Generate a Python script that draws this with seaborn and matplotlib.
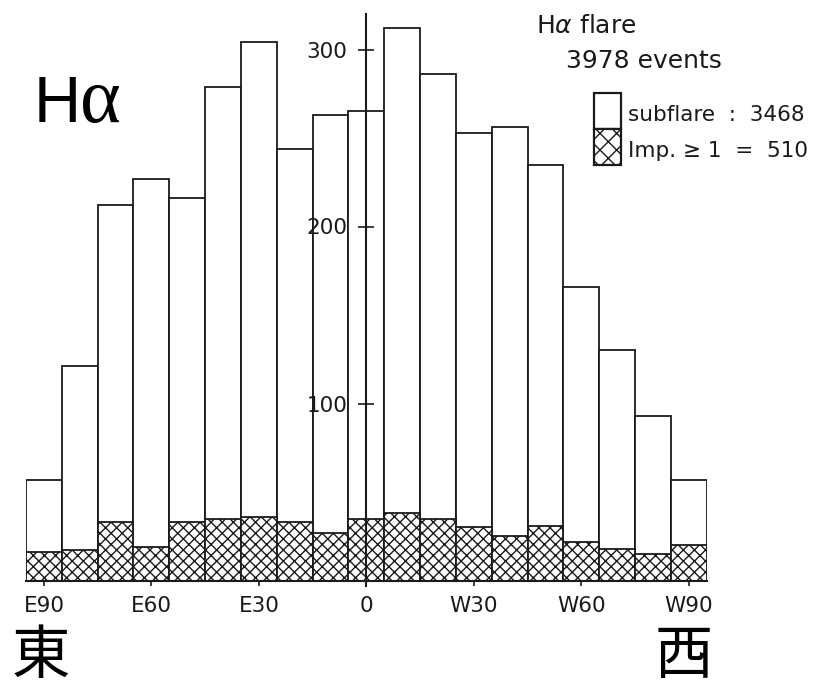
import matplotlib
matplotlib.use("Agg")
import matplotlib.pyplot as plt
from matplotlib.patches import Rectangle
import pandas as pd
import seaborn as sns

# Flare counts per 10-degree longitude bin (east negative, west positive)
longitude = [-90, -80, -70, -60, -50, -40, -30, -20, -10, 0,
             10, 20, 30, 40, 50, 60, 70, 80, 90]
all_flares = [57, 121, 212, 227, 216, 279, 304, 244, 263, 265,
              312, 286, 253, 256, 235, 166, 130, 93, 57]
imp_flares = [16, 17, 33, 19, 33, 35, 36, 33, 27, 35,
              38, 35, 30, 25, 31, 22, 18, 15, 20]

tick_positions = [-90, -60, -30, 0, 30, 60, 90]
tick_labels = ["E90", "E60", "E30", "0", "W30", "W60", "W90"]
y_ticks = [100, 200, 300]

n_total = 3978
n_subflare = 3468
n_imp = 510

INK = "#1a1a1a"

sns.set_theme(style="white")
plt.rcParams["font.family"] = ["DejaVu Sans", "Noto Sans CJK JP"]
plt.rcParams["hatch.linewidth"] = 1.0
plt.rcParams["hatch.color"] = INK

W, H = 814, 688
fig = plt.figure(figsize=(W / 100, H / 100), dpi=100)
fig.patch.set_facecolor("white")


def fx(px):
    return px / W


def fy(py):
    return 1 - py / H


ax = fig.add_axes([fx(26), fy(580.5), (706.7 - 26) / W, 566.4 / H])
ax.set_facecolor("white")

df = pd.DataFrame({"lon": longitude, "all": all_flares, "imp": imp_flares})

# Full height of each bin (subflares + important flares)
sns.barplot(data=df, x="lon", y="all", native_scale=True, width=1.0,
            color="white", saturation=1, edgecolor=INK, linewidth=1.3,
            errorbar=None, ax=ax)
# Importance >= 1 flares, cross-hatched at the base
sns.barplot(data=df, x="lon", y="imp", native_scale=True, width=1.0,
            color="white", saturation=1, edgecolor=INK, linewidth=1.3,
            errorbar=None, hatch="xxx", ax=ax)

ax.set_axisbelow(False)
ax.set_xlim(-95, 95)
ax.set_ylim(0, 320)
ax.set_xlabel("")
ax.set_ylabel("")

for side in ("top", "right"):
    ax.spines[side].set_visible(False)
ax.spines["left"].set_position(("data", 0))
ax.spines["left"].set_bounds(-3, 320)
ax.spines["left"].set_color(INK)
ax.spines["left"].set_linewidth(1.5)
ax.spines["left"].set_clip_on(False)
ax.spines["bottom"].set_color(INK)
ax.spines["bottom"].set_linewidth(1.5)

ax.set_xticks(tick_positions, tick_labels)
ax.set_yticks(y_ticks, [str(v) for v in y_ticks])
ax.tick_params(axis="y", left=True, direction="inout", length=11, width=1.2,
               pad=8, labelsize=15.5, colors=INK)
ax.tick_params(axis="x", bottom=True, direction="out", length=3.5, width=1.2,
               pad=8, labelsize=15.5, colors=INK)
for lbl in ax.get_yticklabels():
    lbl.set_zorder(3)

# Title block and counts
fig.text(fx(536), fy(33), r"H$\alpha$ flare", fontsize=18, color=INK,
         ha="left", va="baseline")
fig.text(fx(566), fy(68), f"{n_total} events", fontsize=18, color=INK,
         ha="left", va="baseline")

# Legend swatches
bx0, bx1 = 594, 620.7
by0, bym, by1 = 93.3, 129.3, 165
fig.add_artist(Rectangle((fx(bx0), fy(bym)), (bx1 - bx0) / W, (bym - by0) / H,
                         transform=fig.transFigure, facecolor="white",
                         edgecolor=INK, linewidth=1.6))
fig.add_artist(Rectangle((fx(bx0), fy(by1)), (bx1 - bx0) / W, (by1 - bym) / H,
                         transform=fig.transFigure, facecolor="white",
                         edgecolor=INK, linewidth=1.6, hatch="xx"))
fig.text(fx(628), fy(120.7), f"subflare  :  {n_subflare}", fontsize=15.5,
         color=INK, ha="left", va="baseline")
fig.text(fx(628), fy(156.7), f"Imp. \u2265 1  =  {n_imp}", fontsize=15.5,
         color=INK, ha="left", va="baseline")

# Large panel label
fig.text(fx(34), fy(122), "H", fontsize=47, family="Liberation Sans",
         color="black", ha="left", va="baseline")
fig.text(fx(80), fy(122), "\u03b1", fontsize=56, family="Liberation Serif",
         color="black", ha="left", va="baseline")

# East / west markers
fig.text(fx(41), fy(687.5), "東", fontsize=42, family=["Noto Sans CJK JP"],
         color="black", ha="center", va="bottom")
fig.text(fx(684), fy(687.5), "西", fontsize=42, family=["Noto Sans CJK JP"],
         color="black", ha="center", va="bottom")

fig.savefig("out.png", dpi=100)
